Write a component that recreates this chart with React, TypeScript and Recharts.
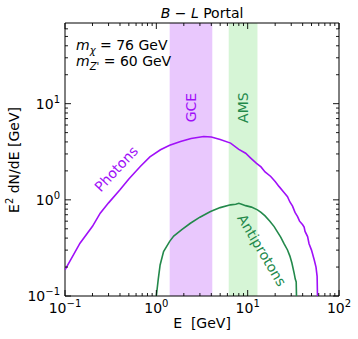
import { LineChart, Line, XAxis, YAxis, ReferenceArea, ReferenceDot } from 'recharts'

const W = 358
const H = 339
const M = { top: 23, right: 19, bottom: 0, left: 0 }
const Y_AXIS_W = 65
const X_AXIS_H = 43
const PLOT_W = W - M.left - M.right - Y_AXIS_W
const PLOT_H = H - M.top - M.bottom - X_AXIS_H

const FONT = '"DejaVu Sans", sans-serif'
const PURPLE = '#a010f8'
const GREEN = '#23894b'

// spectra: E [GeV], E^2 dN/dE [GeV]
const photonE = [0.1, 0.146, 0.2, 0.243, 0.3, 0.4, 0.5, 0.667, 0.85, 1.11, 1.4, 1.84, 2.4, 3.3, 4.0, 5.0, 6.5, 8.0, 9.5, 10.8, 12.5, 14, 15.5, 17.9, 20, 22, 24.5, 27.3, 29, 31, 33, 35.2, 37, 40, 41.5, 42.5, 45.3, 47, 50, 53.6, 56, 57.6, 58.4]
const photonV = [0.187, 0.354, 0.53, 0.726, 0.93, 1.27, 1.65, 2.22, 2.8, 3.32, 3.7, 4.05, 4.35, 4.56, 4.5, 4.25, 3.89, 3.35, 3.05, 2.72, 2.4, 2.2, 1.95, 1.75, 1.55, 1.38, 1.22, 1.08, 0.95, 0.86, 0.74, 0.67, 0.6, 0.55, 0.52, 0.47, 0.415, 0.35, 0.3, 0.237, 0.2, 0.16, 0.08]
const pbarE = [0.975, 1.0, 1.05, 1.1, 1.2, 1.4, 1.55, 1.9, 2.36, 3.0, 3.92, 5.0, 6.5, 7.4, 8.0, 8.6, 9.5, 11, 12.8, 14, 15.5, 17.5, 19.5, 21, 23, 25, 27.3, 29, 30.5, 32.3, 33.2, 34.0, 34.4]
const pbarV = [0.08, 0.1, 0.15, 0.21, 0.29, 0.37, 0.42, 0.49, 0.571, 0.66, 0.755, 0.83, 0.887, 0.9, 0.92, 0.9, 0.87, 0.84, 0.787, 0.74, 0.68, 0.6, 0.527, 0.47, 0.41, 0.35, 0.301, 0.26, 0.22, 0.172, 0.15, 0.14, 0.08]

const photons = photonE.map((e, i) => ({ e, v: photonV[i] }))
const antiprotons = pbarE.map((e, i) => ({ e, v: pbarV[i] }))

// shaded energy windows
const gceBand = [1.4, 4.1]
const amsBand = [6.2, 12.8]

const X_DOMAIN = [0.1, 100]
const Y_DOMAIN = [0.1, 69]
const xDecades = [0.1, 1, 10]
const yDecades = [0.1, 1, 10]
const mults = [1, 2, 3, 4, 5, 6, 7, 8, 9]
const xTicks = [...xDecades.flatMap((d) => mults.map((m) => +(d * m).toPrecision(3))), 100]
const yTicks = yDecades.flatMap((d) => mults.map((m) => +(d * m).toPrecision(3))).filter((v) => v <= 69)
const decadeLabel: Record<number, string> = { 0.1: '−1', 1: '0', 10: '1', 100: '2' }

function XTick(props: any) {
  const { x, y, payload } = props
  const v = payload.value
  const major = decadeLabel[v] !== undefined
  const len = major ? 6 : 3
  const top = y - PLOT_H
  return (
    <g>
      <line x1={x} x2={x} y1={y} y2={y - len} stroke="#000" strokeWidth={0.9} />
      <line x1={x} x2={x} y1={top} y2={top + len} stroke="#000" strokeWidth={0.9} />
      {major && (
        <text x={x} y={y + 17} textAnchor="middle" fontSize={14} fontFamily={FONT} fill="#000">
          10<tspan dy={-6} fontSize={10}>{decadeLabel[v]}</tspan>
        </text>
      )}
    </g>
  )
}

function YTick(props: any) {
  const { x, y, payload } = props
  const v = payload.value
  const major = decadeLabel[v] !== undefined
  const len = major ? 6 : 3
  const right = x + PLOT_W
  return (
    <g>
      <line x1={x} x2={x + len} y1={y} y2={y} stroke="#000" strokeWidth={0.9} />
      <line x1={right} x2={right - len} y1={y} y2={y} stroke="#000" strokeWidth={0.9} />
      {major && (
        <text x={x - 5} y={y + 5} textAnchor="end" fontSize={14} fontFamily={FONT} fill="#000">
          10<tspan dy={-6} fontSize={10}>{decadeLabel[v]}</tspan>
        </text>
      )}
    </g>
  )
}

function rotatedLabel(text: string, color: string, angle: number) {
  return (p: any) => (
    <text
      x={p.cx}
      y={p.cy}
      textAnchor="middle"
      dominantBaseline="central"
      transform={`rotate(${angle} ${p.cx} ${p.cy})`}
      fontSize={14}
      fontFamily={FONT}
      fill={color}
    >
      {text}
    </text>
  )
}

export default function App() {
  return (
    <div style={{ position: 'relative', width: W, height: H, background: '#fff' }}>
      <style>{'body{margin:0}'}</style>
      <LineChart width={W} height={H} margin={M}>
        <XAxis
          dataKey="e"
          type="number"
          scale="log"
          domain={X_DOMAIN}
          allowDataOverflow
          ticks={xTicks}
          interval={0}
          height={X_AXIS_H}
          tickSize={0}
          tickMargin={0}
          axisLine={false}
          tickLine={false}
          tick={<XTick />}
        />
        <YAxis
          dataKey="v"
          type="number"
          scale="log"
          domain={Y_DOMAIN}
          allowDataOverflow
          ticks={yTicks}
          interval={0}
          width={Y_AXIS_W}
          tickSize={0}
          tickMargin={0}
          axisLine={false}
          tickLine={false}
          tick={<YTick />}
        />
        <ReferenceArea x1={gceBand[0]} x2={gceBand[1]} y1={Y_DOMAIN[0]} y2={Y_DOMAIN[1]} fill={PURPLE} fillOpacity={0.23} stroke="none" />
        <ReferenceArea x1={amsBand[0]} x2={amsBand[1]} y1={Y_DOMAIN[0]} y2={Y_DOMAIN[1]} fill="#32cd32" fillOpacity={0.2} stroke="none" />
        <Line data={photons} dataKey="v" stroke={PURPLE} strokeWidth={1.6} dot={false} isAnimationActive={false} type="linear" />
        <Line data={antiprotons} dataKey="v" stroke={GREEN} strokeWidth={1.6} dot={false} isAnimationActive={false} type="linear" />
        <ReferenceDot x={2.4} y={9.1} r={0} shape={rotatedLabel('GCE', PURPLE, -90)} />
        <ReferenceDot x={8.9} y={9.1} r={0} shape={rotatedLabel('AMS', GREEN, -90)} />
        <ReferenceDot x={0.363} y={2.1} r={0} shape={rotatedLabel('Photons', PURPLE, -47)} />
        <ReferenceDot x={14.3} y={0.3} r={0} shape={rotatedLabel('Antiprotons', GREEN, 59)} />
        <ReferenceArea x1={X_DOMAIN[0]} x2={X_DOMAIN[1]} y1={Y_DOMAIN[0]} y2={Y_DOMAIN[1]} fill="none" stroke="#000" strokeWidth={1} />
      </LineChart>
      <svg width={W} height={H} style={{ position: 'absolute', left: 0, top: 0, pointerEvents: 'none' }} fontFamily={FONT}>
        <text x={202} y={18} textAnchor="middle" fontSize={14}>
          <tspan fontStyle="italic">B</tspan> − <tspan fontStyle="italic">L</tspan> Portal
        </text>
        <text x={76} y={50} fontSize={14}>
          <tspan fontStyle="italic">m</tspan>
          <tspan fontStyle="italic" fontSize={10} dy={4}>χ</tspan>
          <tspan dy={-4}> = 76 GeV</tspan>
        </text>
        <text x={76} y={66} fontSize={14}>
          <tspan fontStyle="italic">m</tspan>
          <tspan fontStyle="italic" fontSize={10} dy={4}>Z'</tspan>
          <tspan dy={-4}> = 60 GeV</tspan>
        </text>
        <text x={202} y={328} textAnchor="middle" fontSize={14}>{'E\u00a0\u00a0[GeV]'}</text>
        <text transform="translate(19 160) rotate(-90)" textAnchor="middle" fontSize={14}>
          E<tspan dy={-6} fontSize={10}>2</tspan>
          <tspan dy={6}> dN/dE [GeV]</tspan>
        </text>
      </svg>
    </div>
  )
}
